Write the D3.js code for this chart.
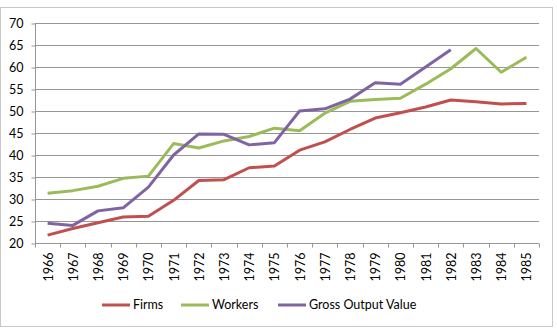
<!DOCTYPE html>
<html>
<head>
<meta charset="utf-8">
<script src="https://cdn.jsdelivr.net/npm/d3@7"></script>
<style>
  body { margin: 0; background: #fff; }
  text { font-family: Lato, "Liberation Sans", sans-serif; fill: #000; }
</style>
</head>
<body>
<svg id="chart"></svg>
<script>
// data
var years = [1966, 1967, 1968, 1969, 1970, 1971, 1972, 1973, 1974, 1975,
             1976, 1977, 1978, 1979, 1980, 1981, 1982, 1983, 1984, 1985];
var firms = [21.8, 23.3, 24.6, 25.9, 26.1, 29.7, 34.2, 34.4, 37.1, 37.5,
             41.1, 43.0, 45.8, 48.4, 49.6, 50.9, 52.5, 52.1, 51.6, 51.7];
var workers = [31.3, 31.9, 32.9, 34.7, 35.2, 42.6, 41.6, 43.2, 44.2, 46.1,
               45.5, 49.5, 52.2, 52.6, 52.9, 56.1, 59.6, 64.2, 58.8, 62.2];
var grossOutput = [24.5, 24.0, 27.3, 28.0, 32.7, 40.0, 44.8, 44.7, 42.3, 42.8,
                   50.0, 50.5, 52.7, 56.4, 56.1, 60.0, 63.9];
var yTicks = [20, 25, 30, 35, 40, 45, 50, 55, 60, 65, 70];

var series = [
  { name: "Firms", values: firms, color: "#C0504D" },
  { name: "Workers", values: workers, color: "#9BBB59" },
  { name: "Gross Output Value", values: grossOutput, color: "#8064A2" }
];

var width = 557, height = 330;
var plotLeft = 35, plotRight = 539, plotTop = 23, plotBottom = 243;

var svg = d3.select("#chart").attr("width", width).attr("height", height);

// chart area border
svg.append("rect")
  .attr("x", 0.5).attr("y", 7.5)
  .attr("width", 552).attr("height", 319)
  .attr("fill", "#fff").attr("stroke", "#c8c8c8");

var x = d3.scaleBand().domain(years).range([plotLeft, plotRight]);
var y = d3.scaleLinear().domain([20, 70]).range([plotBottom, plotTop]);

// gridlines
svg.append("g")
  .selectAll("line")
  .data(yTicks.slice(1))
  .enter().append("line")
  .attr("x1", plotLeft).attr("x2", plotRight)
  .attr("y1", function (d) { return Math.round(y(d)) + 0.5; })
  .attr("y2", function (d) { return Math.round(y(d)) + 0.5; })
  .attr("stroke", "#969696").attr("stroke-width", 1);

// y axis
var yAxis = svg.append("g")
  .attr("transform", "translate(" + (plotLeft + 0.5) + ",0.5)")
  .call(d3.axisLeft(y).tickValues(yTicks).tickSize(4).tickPadding(8));
yAxis.select(".domain").attr("stroke", "#969696").attr("d", "M0," + plotTop + "V" + plotBottom);
yAxis.selectAll(".tick line").attr("stroke", "#969696");
yAxis.selectAll("text").style("font-size", "12.5px");

// x axis, ticks between categories
var xg = svg.append("g").attr("transform", "translate(0," + (plotBottom + 0.5) + ")");
xg.append("line")
  .attr("x1", plotLeft).attr("x2", plotRight)
  .attr("stroke", "#969696");
xg.selectAll(".xt")
  .data(years.concat([null]))
  .enter().append("line")
  .attr("class", "xt")
  .attr("x1", function (d, i) { return Math.round(plotLeft + i * x.bandwidth()) + 0.5; })
  .attr("x2", function (d, i) { return Math.round(plotLeft + i * x.bandwidth()) + 0.5; })
  .attr("y1", 0).attr("y2", 4)
  .attr("stroke", "#969696");
xg.selectAll(".xl")
  .data(years)
  .enter().append("text")
  .attr("class", "xl")
  .attr("transform", function (d) {
    return "translate(" + (x(d) + x.bandwidth() / 2 + 5) + ",9) rotate(-90)";
  })
  .attr("text-anchor", "end")
  .style("font-size", "12.5px")
  .text(function (d) { return d; });

// lines
var line = d3.line()
  .x(function (d, i) { return x(years[i]) + x.bandwidth() / 2; })
  .y(function (d) { return y(d); });

svg.selectAll(".series")
  .data(series)
  .enter().append("path")
  .attr("class", "series")
  .attr("d", function (d) { return line(d.values); })
  .attr("fill", "none")
  .attr("stroke", function (d) { return d.color; })
  .attr("stroke-width", 3)
  .attr("stroke-linejoin", "round");

// legend
var legendX = [102, 181, 278];
var legend = svg.selectAll(".legend")
  .data(series)
  .enter().append("g")
  .attr("class", "legend")
  .attr("transform", function (d, i) { return "translate(" + legendX[i] + ",305)"; });
legend.append("line")
  .attr("x1", 0).attr("x2", 28)
  .attr("stroke", function (d) { return d.color; })
  .attr("stroke-width", 3);
legend.append("text")
  .attr("x", 31).attr("dy", "0.35em")
  .style("font-size", "12.5px")
  .text(function (d) { return d.name; });
</script>
</body>
</html>
